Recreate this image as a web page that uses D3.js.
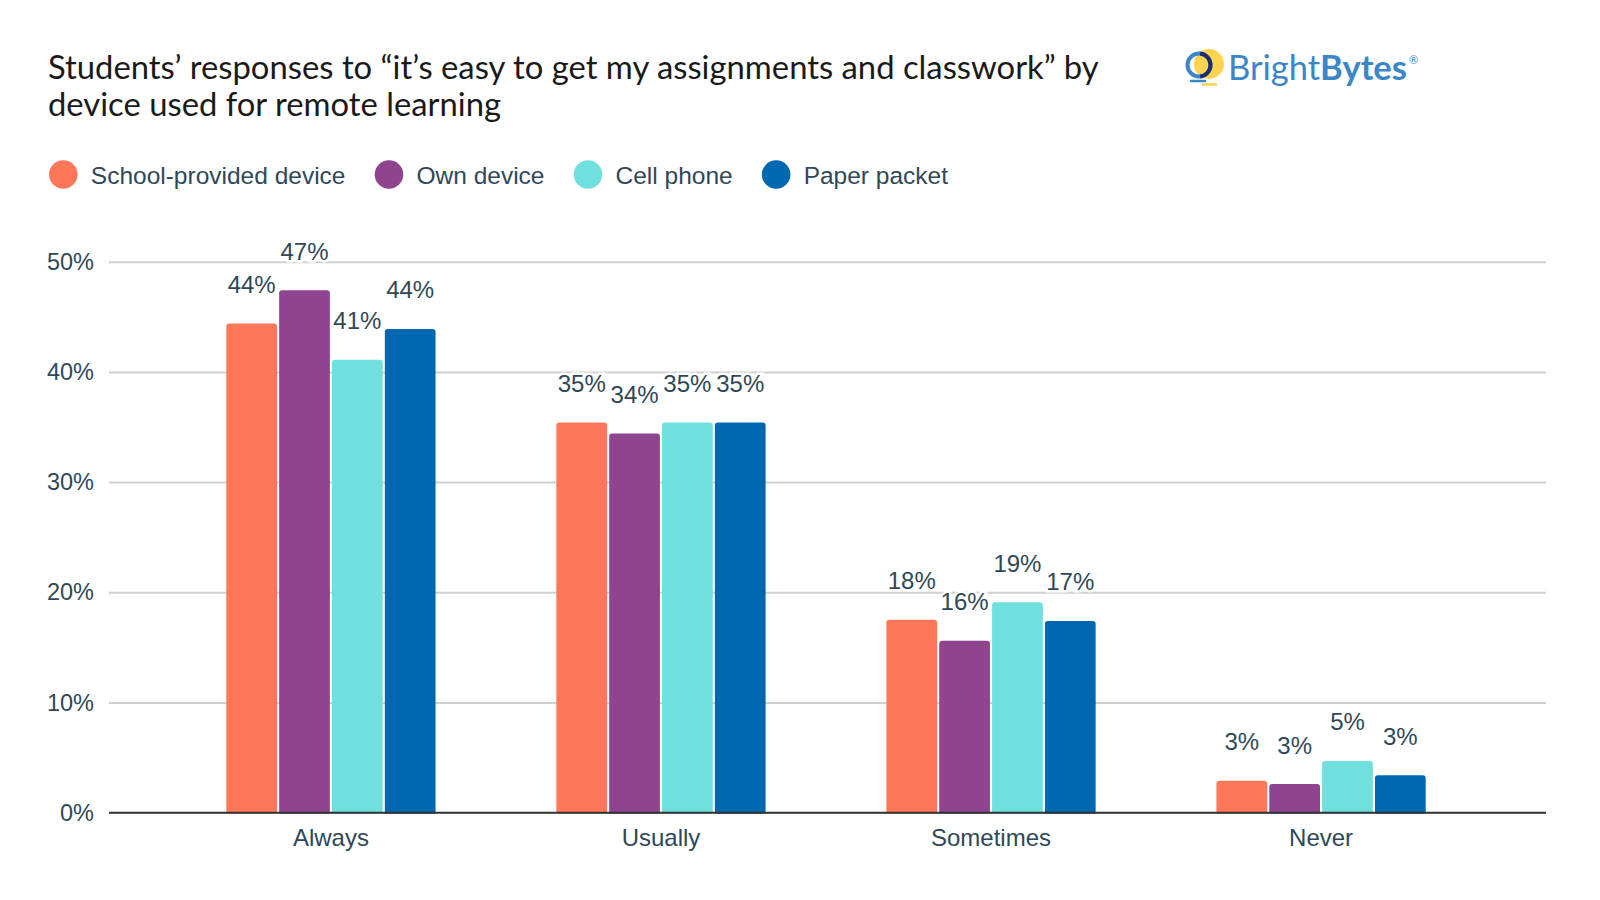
<!DOCTYPE html>
<html>
<head>
<meta charset="utf-8">
<script src="https://cdn.jsdelivr.net/npm/d3@7"></script>
<style>
	body { margin: 0; background: #fff; }
	svg { display: block; }
</style>
</head>
<body>
<div class="chart"></div>
<script>
// chart data
var categories = ["Always", "Usually", "Sometimes", "Never"];
var seriesNames = ["School-provided device", "Own device", "Cell phone", "Paper packet"];
var schoolProvided = [44.4, 35.4, 17.5, 2.9];
var ownDevice = [47.4, 34.4, 15.6, 2.6];
var cellPhone = [41.1, 35.4, 19.1, 4.7];
var paperPacket = [43.9, 35.4, 17.4, 3.4];
var yTicks = [0, 10, 20, 30, 40, 50];
var seriesColors = ["#ff7759", "#8e448f", "#6fe0dd", "#0068b0"];

var seriesValues = [schoolProvided, ownDevice, cellPhone, paperPacket];

WIDTH = 1600
HEIGHT = 900
LEFT = 109
RIGHT = 1546
TOP = 261.7
BOTTOM = 812.7
TEXT_COLOR = "#2f4858"
FONT = "'Liberation Sans', Arial, sans-serif"

var svg = d3.select(".chart").append("svg")
		.attr("width", WIDTH)
		.attr("height", HEIGHT);

// title
var title = svg.append("text")
		.attr("x", 48)
		.attr("y", 79)
		.style("font-family", "Lato, sans-serif")
		.style("font-size", "32.8px")
		.style("fill", "#1a1a1a");
title.append("tspan")
		.attr("x", 48)
		.text("Students\u2019 responses to \u201cit\u2019s easy to get my assignments and classwork\u201d by");
title.append("tspan")
		.attr("x", 48)
		.attr("dy", 37)
		.text("device used for remote learning");

// logo
var logo = svg.append("g");
logo.append("circle")
		.attr("cx", 1209)
		.attr("cy", 64)
		.attr("r", 15)
		.style("fill", "#fdd34f");
logo.append("circle")
		.attr("cx", 1199)
		.attr("cy", 65)
		.attr("r", 11.5)
		.style("fill", "none")
		.style("stroke", "#3a86c8")
		.style("stroke-width", 4);
logo.append("path")
		.attr("d", d3.arc()({innerRadius: 9.5, outerRadius: 13.5, startAngle: 0.1, endAngle: Math.PI - 0.1}))
		.attr("transform", "translate(1199,65)")
		.style("fill", "#1f2c6b");
logo.append("line")
		.attr("x1", 1191).attr("x2", 1205)
		.attr("y1", 81).attr("y2", 81)
		.style("stroke", "#3a86c8")
		.style("stroke-width", 2.5)
		.style("stroke-linecap", "round");
logo.append("line")
		.attr("x1", 1203).attr("x2", 1216)
		.attr("y1", 84.5).attr("y2", 84.5)
		.style("stroke", "#fdd34f")
		.style("stroke-width", 2.5)
		.style("stroke-linecap", "round");
var logoText = logo.append("text")
		.attr("x", 1228)
		.attr("y", 80)
		.style("font-family", "Lato, sans-serif")
		.style("font-size", "34.5px")
		.style("fill", "#3a86c8");
logoText.append("tspan").style("font-weight", 400).text("Bright");
logoText.append("tspan").style("font-weight", "bold").text("Bytes");
logoText.append("tspan")
		.attr("dx", 2)
		.attr("dy", -16)
		.style("font-size", "11px")
		.text("\u00ae");

// legend
var legendX = 63.3;
seriesNames.forEach(function(name, i) {
	svg.append("circle")
		.attr("cx", legendX)
		.attr("cy", 174.5)
		.attr("r", 14.3)
		.style("fill", seriesColors[i]);
	var t = svg.append("text")
		.attr("x", legendX + 27.5)
		.attr("y", 183.5)
		.style("font-family", FONT)
		.style("font-size", "24.5px")
		.style("fill", TEXT_COLOR)
		.text(name);
	legendX = legendX + 27.5 + t.node().getComputedTextLength() + 43.5;
});

// scales
var x0 = d3.scaleBand()
	.domain(categories)
	.range([LEFT - 1.5, RIGHT - 1.5])
	.paddingInner(0.366)
	.paddingOuter(0.36);

var x1 = d3.scaleBand()
	.domain(d3.range(seriesNames.length))
	.range([0, x0.bandwidth()])
	.paddingInner(0.04);

var y = d3.scaleLinear()
	.domain([0, 50])
	.range([BOTTOM, TOP]);

// gridlines + y labels
var yAxis = svg.append("g")
		.attr("transform", "translate(" + LEFT + ",0)")
		.call(d3.axisLeft(y)
			.tickValues(yTicks)
			.tickSize(-(RIGHT - LEFT))
			.tickPadding(15)
			.tickFormat(function(d) { return d + "%"; }));
yAxis.select(".domain").remove();
yAxis.selectAll(".tick line")
		.style("stroke", "#d0d0d0")
		.style("stroke-width", 2);
yAxis.selectAll(".tick text")
		.style("font-family", FONT)
		.style("font-size", "23.5px")
		.style("fill", TEXT_COLOR);

// bars
var groups = svg.selectAll(".group")
		.data(categories)
		.enter().append("g")
		.attr("class", "group")
		.attr("transform", function(d) { return "translate(" + x0(d) + ",0)"; });

var barData = function(c, ci) {
	return seriesValues.map(function(vals, si) { return {s: si, v: vals[ci]}; });
};

groups.selectAll("rect")
		.data(barData)
		.enter().append("rect")
		.attr("x", function(d) { return x1(d.s); })
		.attr("y", function(d) { return y(d.v); })
		.attr("width", x1.bandwidth())
		.attr("height", function(d) { return BOTTOM - y(d.v) + 3; })
		.attr("rx", 3)
		.style("fill", function(d) { return seriesColors[d.s]; });

// x axis
var xAxis = svg.append("g")
		.attr("transform", "translate(0," + BOTTOM + ")")
		.call(d3.axisBottom(x0).tickSize(0).tickPadding(16.5));
xAxis.select(".domain")
		.attr("d", "M" + LEFT + ",0H" + RIGHT)
		.style("stroke", "#333")
		.style("stroke-width", 2);
xAxis.selectAll(".tick text")
		.style("font-family", FONT)
		.style("font-size", "24px")
		.style("fill", TEXT_COLOR);

// white cover under baseline so rounded bottoms don't show
svg.append("rect")
		.attr("x", LEFT)
		.attr("y", BOTTOM + 1)
		.attr("width", RIGHT - LEFT)
		.attr("height", 4)
		.style("fill", "#fff");
xAxis.raise();

// value labels
groups.selectAll(".val")
		.data(barData)
		.enter().append("text")
		.attr("class", "val")
		.attr("x", function(d) { return x1(d.s) + x1.bandwidth() / 2; })
		.attr("y", function(d) { return y(d.v) - 30.5; })
		.attr("text-anchor", "middle")
		.style("font-family", FONT)
		.style("font-size", "24px")
		.style("fill", TEXT_COLOR)
		.style("stroke", "#fff")
		.style("stroke-width", 5)
		.style("paint-order", "stroke")
		.text(function(d) { return Math.round(d.v) + "%"; });
</script>
</body>
</html>
